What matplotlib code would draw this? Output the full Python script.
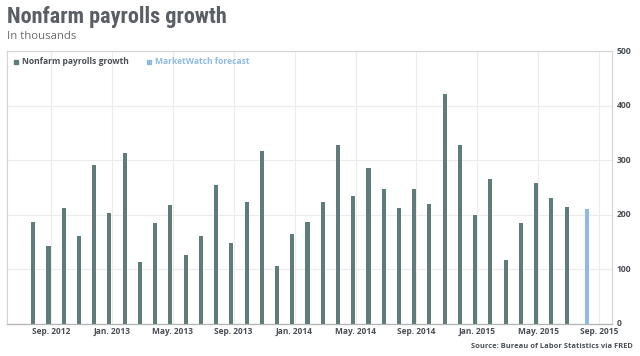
import numpy as np
import matplotlib
matplotlib.use("Agg")
import matplotlib.pyplot as plt
from matplotlib.lines import Line2D

# monthly nonfarm payrolls change, thousands (Aug. 2012 - Jul. 2015)
MONTHS = [
    "Aug. 2012", "Sep. 2012", "Oct. 2012", "Nov. 2012", "Dec. 2012",
    "Jan. 2013", "Feb. 2013", "Mar. 2013", "Apr. 2013", "May. 2013",
    "Jun. 2013", "Jul. 2013", "Aug. 2013", "Sep. 2013", "Oct. 2013",
    "Nov. 2013", "Dec. 2013", "Jan. 2014", "Feb. 2014", "Mar. 2014",
    "Apr. 2014", "May. 2014", "Jun. 2014", "Jul. 2014", "Aug. 2014",
    "Sep. 2014", "Oct. 2014", "Nov. 2014", "Dec. 2014", "Jan. 2015",
    "Feb. 2015", "Mar. 2015", "Apr. 2015", "May. 2015", "Jun. 2015",
    "Jul. 2015", "Aug. 2015", "Sep. 2015",
]
PAYROLLS = [
    186, 143, 212, 162, 291, 203, 313, 114, 185, 218,
    126, 162, 255, 148, 223, 317, 107, 164, 186, 223,
    328, 235, 285, 248, 212, 248, 219, 421, 328, 200,
    265, 118, 185, 259, 230, 214,
]
FORECAST_MONTH = "Aug. 2015"
FORECAST = 211
TICK_LABELS = ["Sep. 2012", "Jan. 2013", "May. 2013", "Sep. 2013", "Jan. 2014",
               "May. 2014", "Sep. 2014", "Jan. 2015", "May. 2015", "Sep. 2015"]
Y_TICKS = [0, 100, 200, 300, 400, 500]

GREEN = "#5e7c79"
BLUE = "#8fbbe3"
TEXT = "#4a4f55"

plt.rcParams["font.family"] = ["Open Sans", "DejaVu Sans"]

fig = plt.figure(figsize=(6.4, 3.56), dpi=100)
ax = fig.add_axes([7 / 640, 1 - 324 / 356, 605 / 640, 273 / 356])

x = np.arange(len(PAYROLLS))
ax.bar(x - 0.15, PAYROLLS, width=0.27, color=GREEN, zorder=3)
ax.bar(MONTHS.index(FORECAST_MONTH) + 0.19, FORECAST, width=0.27, color=BLUE, zorder=3)

ax.set_xlim(-1.87, 37.83)
ax.set_ylim(0, 500)

ax.set_xticks([MONTHS.index(m) for m in TICK_LABELS])
ax.set_xticklabels(TICK_LABELS, fontsize=6, fontweight="bold", color=TEXT)
ax.set_yticks(Y_TICKS)
ax.set_yticklabels([str(v) for v in Y_TICKS], fontsize=6.2, fontweight="bold", color=TEXT)
ax.yaxis.tick_right()
ax.tick_params(axis="x", length=0, pad=2.5)
ax.tick_params(axis="y", length=0, pad=3.5)
for lab in ax.get_yticklabels():
    lab.set_verticalalignment("center")

ax.grid(True, color="#ececec", linewidth=0.8, zorder=0)
for side in ["left", "top", "right"]:
    ax.spines[side].set_color("#d4d4d4")
    ax.spines[side].set_linewidth(0.8)
ax.spines["bottom"].set_color("#b8b8b8")
ax.spines["bottom"].set_linewidth(1.0)

fig.text(7 / 640, 1 - 23.3 / 356, "Nonfarm payrolls growth", fontsize=16,
         fontweight="bold", color="#5a5f66", va="baseline",
         family=["Roboto Condensed", "Liberation Sans Narrow", "Roboto", "DejaVu Sans"])
fig.text(7 / 640, 1 - 39.3 / 356, "In thousands", fontsize=8.2, color="#6b6b6b",
         va="baseline")

handles = [
    Line2D([], [], marker="s", linestyle="none", markersize=3.2, color=GREEN),
    Line2D([], [], marker="s", linestyle="none", markersize=3.2, color=BLUE),
]
leg = fig.legend(handles, ["Nonfarm payrolls growth", "MarketWatch forecast"],
                 loc="center left", bbox_to_anchor=(13 / 640, 1 - 62 / 356), ncol=2,
                 frameon=False, prop={"size": 6.1, "weight": "bold"},
                 handlelength=0.6, handletextpad=0.5, columnspacing=2.0,
                 borderaxespad=0, borderpad=0)
leg.get_texts()[0].set_color(TEXT)
leg.get_texts()[1].set_color(BLUE)

fig.text(632.7 / 640, 1 - 348 / 356, "Source: Bureau of Labor Statistics via FRED",
         fontsize=5.4, fontweight="bold", color=TEXT, ha="right", va="baseline")

fig.savefig("out.png", dpi=100)
